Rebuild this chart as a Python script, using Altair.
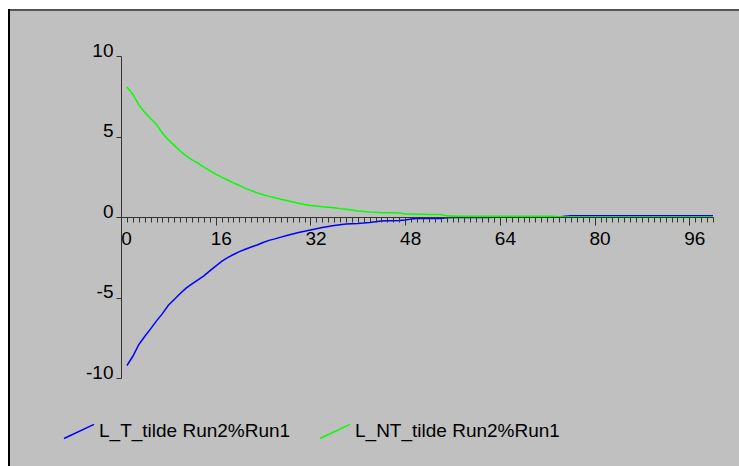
import altair as alt
import pandas as pd

# Time steps 1..100 and the two run-difference series
steps = list(range(1, 101))

l_t_tilde = [
    -9.23, -8.65, -7.93, -7.42, -6.95, -6.45, -6.00, -5.48, -5.12, -4.75,
    -4.42, -4.15, -3.90, -3.66, -3.35, -3.05, -2.76, -2.52, -2.33, -2.15,
    -2.00, -1.86, -1.74, -1.58, -1.45, -1.36, -1.25, -1.15, -1.05, -0.96,
    -0.88, -0.81, -0.73, -0.65, -0.59, -0.53, -0.48, -0.44, -0.42, -0.41,
    -0.38, -0.34, -0.29, -0.25, -0.23, -0.23, -0.22, -0.18, -0.12, -0.10,
    -0.10, -0.10, -0.10, -0.09, -0.05, -0.03, -0.03, -0.03, -0.03, -0.03,
    -0.03, -0.03, -0.02, -0.02, -0.02, -0.02, -0.02, -0.02, -0.02, -0.02,
    -0.02, -0.02, -0.01, 0.00, 0.05, 0.07, 0.07, 0.07, 0.07, 0.07,
    0.07, 0.07, 0.07, 0.07, 0.07, 0.07, 0.07, 0.07, 0.07, 0.07,
    0.07, 0.07, 0.07, 0.07, 0.07, 0.07, 0.07, 0.07, 0.07, 0.07,
]

l_nt_tilde = [
    8.07, 7.62, 6.98, 6.50, 6.12, 5.75, 5.20, 4.80, 4.45, 4.10,
    3.80, 3.55, 3.35, 3.10, 2.88, 2.66, 2.48, 2.30, 2.12, 1.96,
    1.78, 1.64, 1.50, 1.38, 1.28, 1.19, 1.10, 1.02, 0.93, 0.86,
    0.78, 0.72, 0.68, 0.64, 0.61, 0.57, 0.52, 0.48, 0.43, 0.37,
    0.34, 0.31, 0.29, 0.27, 0.26, 0.26, 0.25, 0.19, 0.18, 0.17,
    0.17, 0.16, 0.16, 0.16, 0.07, 0.06, 0.05, 0.05, 0.05, 0.05,
    0.05, 0.05, 0.05, 0.05, 0.05, 0.05, 0.05, 0.05, 0.05, 0.05,
    0.05, 0.05, 0.04, 0.02, 0.00, 0.00, 0.00, 0.00, 0.00, 0.00,
    0.00, 0.00, 0.00, 0.00, 0.00, 0.00, 0.00, 0.00, 0.00, 0.00,
    0.00, 0.00, 0.00, 0.00, 0.00, 0.00, 0.00, 0.00, 0.00, 0.00,
]

series_names = ["L_T_tilde Run2%Run1", "L_NT_tilde Run2%Run1"]
series_colors = ["#0000ff", "#00ff00"]
y_ticks = [-10, -5, 0, 5, 10]

FONT = "Liberation Sans, Arial, sans-serif"
W, H = 592, 322
PAD = {"left": 121, "top": 56, "right": 26, "bottom": 88}

df = pd.concat([
    pd.DataFrame({"t": steps, "value": l_t_tilde, "series": series_names[0]}),
    pd.DataFrame({"t": steps, "value": l_nt_tilde, "series": series_names[1]}),
])

one_row = alt.Data(values=[{}])

# Grey panel behind everything, with its top and left edges
panel = alt.Chart(one_row).mark_rect(color="#c0c0c0").encode(
    x=alt.value(9 - PAD["left"]), x2=alt.value(W + PAD["right"] + 5),
    y=alt.value(9 - PAD["top"]), y2=alt.value(H + PAD["bottom"] + 5),
)
top_edge = alt.Chart(one_row).mark_rule(color="#555555", strokeWidth=2).encode(
    x=alt.value(9 - PAD["left"]), x2=alt.value(W + PAD["right"] + 5),
    y=alt.value(10 - PAD["top"]),
)
left_edge = alt.Chart(one_row).mark_rule(color="#000000", strokeWidth=2).encode(
    x=alt.value(9 - PAD["left"]),
    y=alt.value(9 - PAD["top"]), y2=alt.value(H + PAD["bottom"] + 5),
)

x_axis = alt.Axis(
    values=list(range(0, 101)),
    title=None,
    grid=False,
    offset=-H / 2,
    zindex=1,
    domainColor="#333333",
    tickColor="#333333",
    tickSize={"condition": {"test": "datum.value % 16 === 0", "value": 8}, "value": 5},
    labelExpr="datum.value % 16 === 0 ? '' + datum.value : ''",
    labelOverlap=False,
    labelFlush=False,
    labelFont=FONT,
    labelFontSize=19,
    labelColor="#000000",
    labelOffset=5,
    labelPadding=4,
)

y_axis = alt.Axis(
    values=y_ticks,
    title=None,
    grid=False,
    zindex=1,
    domainColor="#333333",
    tickColor="#333333",
    tickSize=5,
    labelExpr="'' + datum.value",
    labelBaseline="alphabetic",
    labelFont=FONT,
    labelFontSize=19,
    labelColor="#000000",
    labelPadding=3,
)

lines = alt.Chart(df).mark_line(strokeWidth=1.5).encode(
    x=alt.X("t:Q", scale=alt.Scale(domain=[0, 100], nice=False, zero=False), axis=x_axis),
    y=alt.Y("value:Q", scale=alt.Scale(domain=[-10, 10], nice=False), axis=y_axis),
    color=alt.Color(
        "series:N",
        scale=alt.Scale(domain=series_names, range=series_colors),
        legend=alt.Legend(
            title=None,
            orient="none",
            legendX=-58,
            legendY=359,
            direction="horizontal",
            symbolType="M-1,0.47L1,-0.47",
            symbolSize=900,
            symbolStrokeWidth=1.5,
            labelFont=FONT,
            labelFontSize=19,
            labelColor="#000000",
            labelOffset=4,
            columnPadding=26,
            labelLimit=400,
        ),
    ),
)

chart = alt.layer(panel, top_edge, left_edge, lines).properties(
    width=W,
    height=H,
    autosize=alt.AutoSizeParams(type="none"),
    padding=PAD,
    background="white",
).configure_view(stroke=None)

chart.save("out.html", embed_options={"renderer": "svg", "actions": False})
